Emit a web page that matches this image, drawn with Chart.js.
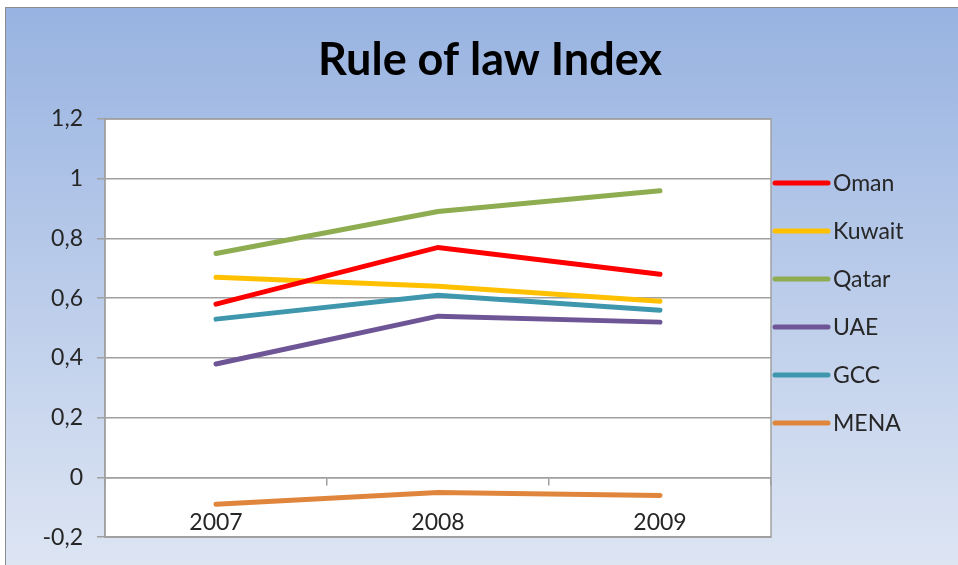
<!DOCTYPE html>
<html>
<head>
<meta charset="utf-8">
<script src="https://cdn.jsdelivr.net/npm/chart.js@4.4.1/dist/chart.umd.min.js"></script>
<style>
  body { margin: 0; background: #fff; }
  #wrap { width: 958px; height: 565px; position: relative; }
</style>
</head>
<body>
<div id="wrap"><canvas id="myChart"></canvas></div>
<script>
// datos
const years = ['2007', '2008', '2009'];
const oman = [0.58, 0.77, 0.68];
const kuwait = [0.67, 0.64, 0.59];
const qatar = [0.75, 0.89, 0.96];
const uae = [0.38, 0.54, 0.52];
const gcc = [0.53, 0.61, 0.56];
const mena = [-0.09, -0.05, -0.06];
const yTicks = [-0.2, 0, 0.2, 0.4, 0.6, 0.8, 1, 1.2];
const titulo = 'Rule of law Index';

const FONT = 'Lato, "Open Sans", sans-serif';

function serie(label, data, color){
    return {
        label: label,
        data: data,
        borderColor: color,
        backgroundColor: color,
        borderWidth: 5,
        pointRadius: 0,
        pointHoverRadius: 0,
        tension: 0,
        borderCapStyle: 'round'
    };
}

// fondo degradado + area blanca + titulo
const fondo = {
    id: 'fondo',
    beforeDraw(chart){
        const c = chart.ctx;
        const a = chart.chartArea;
        c.save();
        c.fillStyle = '#fff';
        c.fillRect(0, 0, chart.width, chart.height);
        const g = c.createLinearGradient(0, 8, 0, chart.height);
        g.addColorStop(0, '#98b3e1');
        g.addColorStop(1, '#dde5f3');
        c.fillStyle = g;
        c.fillRect(6, 8, chart.width - 6, chart.height - 8);
        c.strokeStyle = '#8c8c8c';
        c.lineWidth = 1;
        c.strokeRect(5.5, 7.5, chart.width, chart.height);
        c.fillStyle = '#fff';
        c.fillRect(a.left, a.top, a.right - a.left, a.bottom - a.top);
        // titulo
        c.fillStyle = '#000';
        c.font = 'bold 45px ' + FONT;
        c.textAlign = 'center';
        c.textBaseline = 'middle';
        c.fillText(titulo, 490, 60);
        c.restore();
    },
    beforeDatasetsDraw(chart){
        const c = chart.ctx;
        const a = chart.chartArea;
        c.save();
        c.strokeStyle = '#a0a0a0';
        c.lineWidth = 1.5;
        c.strokeRect(a.left, a.top, a.right - a.left, a.bottom - a.top);
        c.restore();
    }
};

// leyenda a la derecha
const leyenda = {
    id: 'leyenda',
    afterDraw(chart){
        const c = chart.ctx;
        c.save();
        c.font = '23px ' + FONT;
        c.textBaseline = 'middle';
        chart.data.datasets.forEach((ds, i) => {
            const y = 183 + i * 48;
            c.strokeStyle = ds.borderColor;
            c.lineWidth = 5;
            c.lineCap = 'round';
            c.beginPath();
            c.moveTo(775, y);
            c.lineTo(828, y);
            c.stroke();
            c.fillStyle = '#262626';
            c.fillText(ds.label, 833, y + 1);
        });
        c.restore();
    }
};

const ctx = document.getElementById('myChart').getContext('2d');
const myChart = new Chart(ctx, {
    type: 'line',
    data: {
        labels: years,
        datasets: [
            serie('Oman', oman, '#ff0000'),
            serie('Kuwait', kuwait, '#ffc000'),
            serie('Qatar', qatar, '#8eac50'),
            serie('UAE', uae, '#6e5596'),
            serie('GCC', gcc, '#3e97ad'),
            serie('MENA', mena, '#e0863c')
        ]
    },
    options: {
        responsive: true,
        maintainAspectRatio: false,
        animation: false,
        events: [],
        layout: { padding: { left: 5, right: 187, bottom: 26, top: 119 } },
        plugins: {
            legend: { display: false },
            tooltip: { enabled: false },
            title: { display: false }
        },
        scales: {
            x: {
                position: { y: 0 },
                offset: true,
                grid: {
                    display: true,
                    offset: true,
                    drawOnChartArea: false,
                    drawTicks: true,
                    tickLength: 7,
                    color: '#a0a0a0',
                    lineWidth: 1.5
                },
                border: { display: true, color: '#a0a0a0', width: 1.5 },
                ticks: {
                    color: '#262626',
                    font: { family: FONT, size: 23 },
                    padding: 24,
                    maxRotation: 0
                }
            },
            y: {
                min: -0.2,
                max: 1.2,
                afterFit(scale){ scale.width = 100; },
                afterBuildTicks(scale){ scale.ticks = yTicks.map(v => ({ value: v })); },
                grid: {
                    color: '#a0a0a0',
                    lineWidth: 1.5,
                    drawTicks: true,
                    tickLength: 8
                },
                border: { display: true, color: '#a0a0a0', width: 1.5 },
                ticks: {
                    color: '#262626',
                    font: { family: FONT, size: 23 },
                    padding: 14,
                    callback: (v) => String(Math.round(v * 10) / 10).replace('.', ',')
                }
            }
        }
    },
    plugins: [fondo, leyenda]
});
</script>
</body>
</html>
